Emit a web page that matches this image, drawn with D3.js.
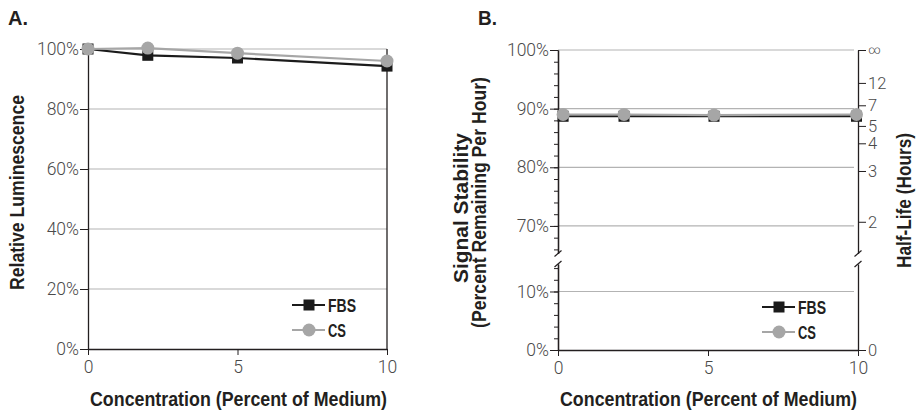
<!DOCTYPE html>
<html>
<head>
<meta charset="utf-8">
<script src="https://cdn.jsdelivr.net/npm/d3@7"></script>
<style>
	body { margin: 0; background: #fff; }
	.bold-label { font-family: "Liberation Sans", Arial, sans-serif; font-weight: bold; fill: #231f20; }
	.tick text { font-family: "Roboto", "Liberation Sans", sans-serif; font-weight: 300; font-size: 17.5px; fill: #4a4a4a; }
	.tick line, .domain { stroke: #231f20; }
</style>
</head>
<body>
<div id="chartId"></div>
<script>
// Panel A: relative luminescence
var concentrationsA = [0, 2, 5, 10];
var fbsLuminescence = [100, 97.9, 97.0, 94.3];
var csLuminescence = [100, 100.3, 98.6, 96.0];
var ticksA = [0, 20, 40, 60, 80, 100];

// Panel B: signal stability
var concentrationsB = [0.17, 2.2, 5.2, 9.95];
var fbsStability = [88.7, 88.7, 88.7, 88.7];
var csStability = [89.0, 89.0, 88.9, 89.0];
var ticksBUpper = [70, 80, 90, 100];
var ticksBLower = [0, 10];
var halfLifeHours = [Infinity, 12, 7, 5, 4, 3, 2, 0];
var halfLifeLabels = ["\u221e", "12", "7", "5", "4", "3", "2", "0"];

var xTicks = [0, 5, 10];
var seriesNames = ["FBS", "CS"];
var seriesColors = {"FBS": "#1b1b1b", "CS": "#a6a6a6"};

var svg = d3.select("#chartId").append("svg")
	.attr("width", 919)
	.attr("height", 415);

// condensed bold text: Liberation Sans Bold squeezed to the measured width
function boldText(g, str, x, y, len, size, rotated, anchor){
	var t = g.append("text")
		.attr("class", "bold-label")
		.attr("text-anchor", anchor || "middle")
		.attr("textLength", len)
		.attr("lengthAdjust", "spacingAndGlyphs")
		.style("font-size", size + "px")
		.text(str);
	if (rotated){
		t.attr("transform", "translate(" + x + "," + y + ") rotate(-90)");
	}
	else {
		t.attr("x", x).attr("y", y);
	}
	return t;
}

function drawMarker(g, name, x, y){
	if (name == "FBS"){
		g.append("rect")
			.attr("x", x - 5.5).attr("y", y - 5.5)
			.attr("width", 11).attr("height", 11)
			.attr("fill", seriesColors[name]);
	}
	else {
		g.append("circle")
			.attr("cx", x).attr("cy", y).attr("r", 6.5)
			.attr("fill", seriesColors[name]);
	}
}

function drawSeries(g, xs, ys, name, xScale, yScale){
	var pts = xs.map(function(d, i){ return [xScale(d), yScale(ys[i])]; });
	g.append("path")
		.attr("d", d3.line()(pts))
		.attr("fill", "none")
		.attr("stroke", seriesColors[name])
		.attr("stroke-width", 2.2);
	pts.forEach(function(p){ drawMarker(g, name, p[0], p[1]); });
}

function drawLegend(g, x, y){
	var widths = {"FBS": 28, "CS": 18};
	seriesNames.forEach(function(name, i){
		var ly = y + i * 25;
		g.append("line")
			.attr("x1", x).attr("x2", x + 33)
			.attr("y1", ly).attr("y2", ly)
			.attr("stroke", seriesColors[name])
			.attr("stroke-width", 2.2);
		drawMarker(g, name, x + 17, ly);
		boldText(g, name, x + 36, ly + 7, widths[name], 19, false, "start");
	});
}

function xAxis(g, xScale, y){
	g.append("g")
		.attr("transform", "translate(0," + y + ")")
		.call(d3.axisBottom(xScale).tickValues(xTicks).tickSize(6).tickSizeOuter(0).tickPadding(6))
		.call(function(a){ a.select(".domain").attr("stroke-width", 1.3); });
}

// ---------- Panel A ----------
var gA = svg.append("g");
var xA = d3.scaleLinear().domain([0, 10]).range([88, 387]);
var yA = d3.scaleLinear().domain([0, 100]).range([349, 49]);

gA.selectAll(".grid-a")
	.data(ticksA.filter(function(d){ return d > 0; })).enter()
	.append("line")
		.attr("class", "grid-a")
		.attr("x1", xA(0)).attr("x2", xA(10))
		.attr("y1", function(d){ return yA(d); })
		.attr("y2", function(d){ return yA(d); })
		.attr("stroke", "#b3b3b3")
		.attr("stroke-width", 1.2);
gA.append("line")
	.attr("x1", xA(10)).attr("x2", xA(10))
	.attr("y1", yA(100)).attr("y2", yA(0))
	.attr("stroke", "#231f20").attr("stroke-width", 1.3);

gA.append("g")
	.attr("transform", "translate(" + xA(0) + ",0)")
	.call(d3.axisLeft(yA).tickValues(ticksA).tickFormat(function(d){ return d + "%"; }).tickSize(8).tickSizeOuter(0).tickPadding(1))
	.call(function(a){ a.select(".domain").attr("stroke-width", 1.3); });
xAxis(gA, xA, yA(0));

drawSeries(gA, concentrationsA, fbsLuminescence, "FBS", xA, yA);
drawSeries(gA, concentrationsA, csLuminescence, "CS", xA, yA);
drawLegend(gA, 292, 305);

boldText(gA, "A.", 8, 25, 20, 21, false, "start");
boldText(gA, "Concentration (Percent of Medium)", 238.5, 406, 297, 20, false);
boldText(gA, "Relative Luminescence", 24, 192.5, 195, 20, true);

// ---------- Panel B ----------
var gB = svg.append("g");
var xB = d3.scaleLinear().domain([0, 10]).range([558, 858]);
var yUpper = d3.scaleLinear().domain([65.3, 100]).range([253.5, 50]);
var yLower = d3.scaleLinear().domain([0, 14.7]).range([350, 264]);
// both segments share one broken scale for the data
var yB = d3.scaleLinear().domain([0, 14.7, 65.3, 100]).range([350, 264, 253.5, 50]);

gB.selectAll(".grid-b")
	.data(ticksBUpper.concat([10])).enter()
	.append("line")
		.attr("class", "grid-b")
		.attr("x1", xB(0)).attr("x2", xB(10) - 4)
		.attr("y1", function(d){ return yB(d); })
		.attr("y2", function(d){ return yB(d); })
		.attr("stroke", "#b3b3b3")
		.attr("stroke-width", 1.2);

var minorUpper = d3.range(66, 100, 2);
var minorLower = d3.range(2, 15, 2);
[[yUpper, ticksBUpper, minorUpper], [yLower, ticksBLower, minorLower]].forEach(function(seg){
	gB.append("g")
		.attr("transform", "translate(" + xB(0) + ",0)")
		.call(d3.axisLeft(seg[0]).tickValues(seg[2]).tickFormat("").tickSize(4).tickSizeOuter(0))
		.call(function(a){ a.select(".domain").attr("stroke-width", 1.3); });
	gB.append("g")
		.attr("transform", "translate(" + xB(0) + ",0)")
		.call(d3.axisLeft(seg[0]).tickValues(seg[1]).tickFormat(function(d){ return d + "%"; }).tickSize(8).tickSizeOuter(0).tickPadding(1))
		.call(function(a){ a.select(".domain").attr("stroke-width", 1.3); });
});

// right axis: half-life in hours, p = 0.5^(1/h)
var hlPercent = halfLifeHours.map(function(h){
	if (h === Infinity) return 100;
	if (h === 0) return 0;
	return 100 * Math.pow(0.5, 1 / h);
});
[[yUpper, 50], [yLower, 0]].forEach(function(seg){
	var vals = [], labels = [];
	hlPercent.forEach(function(p, i){
		if ((seg[1] == 50 && p > 50) || (seg[1] == 0 && p < 50)){
			vals.push(p);
			labels.push(halfLifeLabels[i]);
		}
	});
	gB.append("g")
		.attr("transform", "translate(" + xB(10) + ",0)")
		.call(d3.axisRight(seg[0]).tickValues(vals).tickFormat(function(d, i){ return labels[i]; }).tickSize(8).tickSizeOuter(0).tickPadding(2))
		.call(function(a){
			a.select(".domain").attr("stroke-width", 1.3);
			a.selectAll(".tick text").style("font-size", "16.5px");
			a.selectAll(".tick text").filter(function(d, i){ return labels[i] == "\u221e"; })
				.style("font-size", "12px");
		});
});

// axis break marks
[xB(0), xB(10)].forEach(function(x){
	[253.5, 264].forEach(function(y){
		gB.append("line")
			.attr("x1", x - 3.5).attr("x2", x + 3.5)
			.attr("y1", y + 3).attr("y2", y - 3)
			.attr("stroke", "#231f20").attr("stroke-width", 1.2);
	});
});

xAxis(gB, xB, yB(0));

drawSeries(gB, concentrationsB, fbsStability, "FBS", xB, yB);
drawSeries(gB, concentrationsB, csStability, "CS", xB, yB);
drawLegend(gB, 762, 307);

boldText(gB, "B.", 478, 25, 19, 21, false, "start");
boldText(gB, "Concentration (Percent of Medium)", 708.5, 406, 297, 20, false);
boldText(gB, "Signal Stability", 468, 208, 150, 20, true);
boldText(gB, "(Percent Remaining Per Hour)", 486, 202.5, 251, 20, true);
boldText(gB, "Half-Life (Hours)", 911, 200.5, 135, 20, true);
</script>
</body>
</html>
